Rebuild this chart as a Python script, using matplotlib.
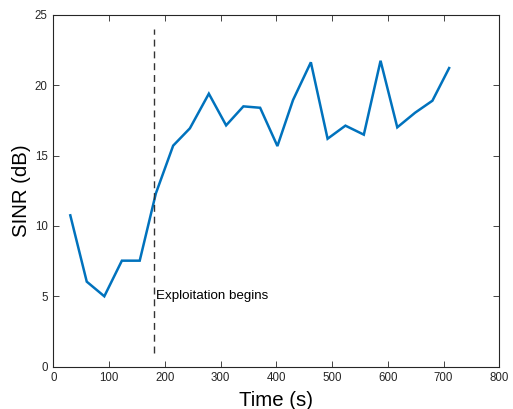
import matplotlib
matplotlib.use('Agg')
import matplotlib.pyplot as plt

# SINR trace over time, with the start of the exploitation phase marked
time_s = [30.5, 60, 91.5, 123, 155, 184, 215, 245, 279, 310, 341, 371,
          402, 430, 462, 492, 524, 557, 587, 617, 649, 680, 710]
sinr_db = [10.75, 6.04, 5.0, 7.53, 7.53, 12.31, 15.7, 16.93, 19.39, 17.14, 18.49, 18.39,
           15.67, 18.94, 21.62, 16.19, 17.12, 16.48, 21.73, 17.0, 18.04, 18.89, 21.21]
exploit_t = 180
exploit_span = [1, 24]
exploit_label = 'Exploitation begins'

plt.rcParams['font.family'] = ['Liberation Sans', 'DejaVu Sans']
edge = '#262626'

fig = plt.figure(figsize=(5.13, 4.09), dpi=100)
ax = fig.add_axes([53.3 / 513, 1 - 366.7 / 409, 446 / 513, 352 / 409])

ax.plot(time_s, sinr_db, color='#0072BD', lw=1.8, solid_joinstyle='miter')
ax.plot([exploit_t, exploit_t], exploit_span, color='#333333', lw=1.0,
        dashes=(5, 3.5))
ax.text(exploit_t + 5, 5, exploit_label, fontsize=9.6, va='center', ha='left',
        color='black')

ax.set_xlim(0, 800)
ax.set_ylim(0, 25)
ax.set_xticks(range(0, 801, 100))
ax.set_yticks(range(0, 26, 5))
ax.tick_params(direction='in', length=4, width=0.6, colors=edge,
               labelsize=8.3, top=True, right=True, pad=4)
for s in ax.spines.values():
    s.set_color(edge)
    s.set_linewidth(0.8)

ax.set_xlabel('Time (s)', fontsize=14.7, color='black', labelpad=4.5)
ax.set_ylabel('SINR (dB)', fontsize=14.7, color='black', labelpad=3)

fig.savefig('out.png', dpi=100)
